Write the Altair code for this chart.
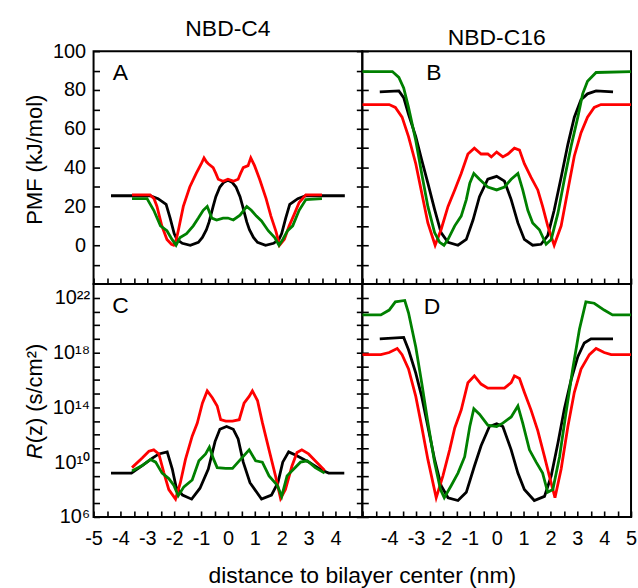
import altair as alt
import pandas as pd

FONT = "Liberation Sans"
W, H = 270, 234
TK = 6  # inward tick length (px)
BLACK, RED, GREEN = "#000000", "#ff0000", "#008000"

col_titles = ["NBD-C4", "NBD-C16"]
letters = ["A", "B", "C", "D"]
x_title = "distance to bilayer center (nm)"
pmf_title = "PMF (kJ/mol)"

x_ticks = [-5, -4.5, -4, -3.5, -3, -2.5, -2, -1.5, -1, -0.5, 0, 0.5, 1, 1.5, 2, 2.5, 3, 3.5, 4, 4.5, 5]
x_labels_left = [-5, -4, -3, -2, -1, 0, 1, 2, 3, 4]
x_labels_right = [-4, -3, -2, -1, 0, 1, 2, 3, 4, 5]
pmf_ticks = [-10, 0, 10, 20, 30, 40, 50, 60, 70, 80, 90, 100]
pmf_labels = [0, 20, 40, 60, 80, 100]
r_tick_exp = [6, 7, 8, 9, 10, 11, 12, 13, 14, 15, 16, 17, 18, 19, 20, 21, 22]
r_label_exp = [6, 10, 14, 18, 22]

# ---------------- Panel A : PMF, NBD-C4 ----------------
a_black_x = [-4.35, -2.9, -2.6, -2.3, -2.15, -2.0, -1.9, -1.7, -1.4, -1.1, -0.95, -0.8, -0.7, -0.55, -0.45, -0.3, -0.15, 0.0,
             0.15, 0.3, 0.45, 0.55, 0.7, 0.8, 0.95, 1.1, 1.4, 1.7, 1.9, 2.0, 2.15, 2.3, 2.6, 2.9, 4.35]
a_black_y = [25.5, 25.5, 24, 21, 14, 6, 3, 1, 0, 1.5, 4, 8, 12, 20, 25, 30, 32.5, 33.5,
             32.5, 30, 25, 20, 12, 8, 4, 1.5, 0, 1, 3, 6, 14, 21, 24, 25.5, 25.5]
a_red_x = [-3.57, -2.9, -2.75, -2.64, -2.46, -2.27, -2.1, -2.02, -1.92, -1.84, -1.66, -1.42, -1.18, -0.99, -0.89, -0.8,
           -0.73, -0.55, -0.45, -0.36, -0.18, 0.0, 0.2, 0.38, 0.47, 0.57, 0.75, 0.85, 0.99, 1.18, 1.42, 1.6, 1.79,
           1.92, 2.1, 2.28, 2.47, 2.65, 2.9, 3.5]
a_red_y = [26, 26, 24, 20, 10, 3, 0.5, 0, 3, 8, 20, 30, 37, 42, 45, 43,
           42, 40, 37, 34, 33, 34, 33, 34, 37, 40, 41, 45, 41, 34, 24, 15, 7,
           0, 3, 10, 16, 22, 26, 26]
a_green_x = [-3.57, -3.01, -2.76, -2.51, -2.27, -2.08, -1.93, -1.78, -1.54, -1.29, -1.1, -0.92, -0.77, -0.6, -0.42,
             -0.18, 0.0, 0.2, 0.45, 0.7, 0.87, 1.06, 1.25, 1.5, 1.74, 1.9, 2.04, 2.22, 2.41, 2.65, 2.9, 3.5]
a_green_y = [24, 24, 18, 10, 7.5, 3, 0, 4, 6, 10, 14, 18, 20, 14, 13,
             14, 14, 13, 15.5, 20, 18, 15, 12.5, 7.5, 4, 0, 3, 7.5, 10, 18, 23.5, 24]

# ---------------- Panel B : PMF, NBD-C16 ----------------
b_black_x = [-4.35, -3.64, -3.46, -3.28, -3.01, -2.79, -2.56, -2.31, -2.07, -1.81, -1.44, -1.13, -0.88, -0.64, -0.33,
             0.0, 0.29, 0.54, 0.79, 1.03, 1.34, 1.65, 1.9, 2.14, 2.4, 2.65, 2.89, 3.14, 3.38, 3.7, 4.33]
b_black_y = [79, 79.5, 76, 67.5, 56, 44, 32, 18.5, 6.5, 1.5, 0, 3, 13, 25, 34,
             35.5, 33, 23.5, 11.5, 3, 0, 0.5, 5, 18, 35, 52, 66, 75, 78, 79.5, 79]
b_red_x = [-5, -4.0, -3.77, -3.52, -3.28, -3.01, -2.79, -2.56, -2.29, -2.07, -1.81, -1.56, -1.32, -1.07, -0.83, -0.58,
           -0.33, -0.2, 0.0, 0.23, 0.42, 0.66, 0.85, 1.03, 1.28, 1.53, 1.71, 1.9, 2.14, 2.4, 2.65, 2.89, 3.14, 3.38,
           3.63, 3.88, 5]
b_red_y = [72.5, 72.5, 71, 66, 56, 42, 27, 11.5, 0, 8, 20, 28.5, 37, 47, 50, 47,
           47, 45.5, 48, 45.5, 47, 50, 49, 42, 35, 28.5, 20, 10, 0, 10, 28.5, 46, 58, 66,
           71, 72.5, 72.5]
b_green_x = [-5, -3.88, -3.64, -3.46, -3.28, -3.01, -2.79, -2.56, -2.31, -2.12, -1.96, -1.81, -1.56, -1.32, -1.13,
             -1.0, -0.85, -0.64, -0.33, 0.0, 0.29, 0.54, 0.79, 0.97, 1.16, 1.34, 1.59, 1.84, 2.03, 2.28, 2.52,
             2.77, 3.02, 3.2, 3.38, 3.7, 5]
b_green_y = [89.5, 89.5, 86.5, 81, 71, 54, 37, 20, 6.5, 1.5, 0, 3, 10, 15, 23.5,
             32, 37, 34, 30, 28.5, 30, 34, 37, 28.5, 18, 11.5, 8, 0.5, 3, 16.5, 34,
             51, 66, 78, 84.5, 89, 89.5]

# ---------------- Panel C : R(z), NBD-C4 (log10 of s/cm^2) ----------------
c_black_x = [-4.35, -3.59, -3.19, -2.81, -2.57, -2.26, -2.07, -1.93, -1.69, -1.35, -1.04, -0.73, -0.48, -0.3, -0.05,
             0.2, 0.38, 0.57, 0.82, 1.25, 1.62, 1.86, 2.04, 2.26, 2.53, 3.02, 3.5, 3.75, 4.33]
c_black_e = [9.2, 9.2, 9.75, 10.3, 10.6, 10.75, 9.5, 8.2, 7.6, 7.3, 8.1, 9.5, 11.5, 12.4, 12.6,
             12.4, 11.7, 10.0, 8.5, 7.3, 7.6, 8.5, 10.0, 10.75, 10.5, 10.0, 9.4, 9.2, 9.2]
c_red_x = [-3.57, -3.19, -2.94, -2.76, -2.57, -2.38, -2.2, -1.95, -1.77, -1.58, -1.33, -1.14, -0.95, -0.77, -0.58,
           -0.4, -0.27, -0.08, 0.17, 0.42, 0.6, 0.79, 0.91, 1.1, 1.28, 1.53, 1.77, 1.96, 2.14, 2.38, 2.57, 2.75,
           3.0, 3.3, 3.6]
c_red_e = [9.6, 10.3, 10.8, 10.9, 10.6, 9.2, 8.0, 7.3, 8.5, 10.2, 11.9, 12.85, 14.3, 15.2, 14.7,
           14.1, 13.1, 13.0, 13.0, 13.1, 14.3, 14.8, 15.2, 14.5, 12.9, 10.9, 9.0, 7.35, 8.0, 9.7, 10.7, 10.9,
           10.6, 10.0, 9.4]
c_green_x = [-3.57, -3.19, -2.88, -2.69, -2.45, -2.2, -2.01, -1.85, -1.64, -1.33, -1.08, -0.83, -0.69, -0.53, -0.4,
             -0.08, 0.17, 0.47, 0.79, 1.03, 1.28, 1.53, 1.84, 2.0, 2.2, 2.45, 2.7, 2.95, 3.25, 3.6]
c_green_e = [9.35, 9.75, 10.2, 10.0, 9.2, 8.8, 8.3, 7.55, 8.2, 8.7, 10.1, 10.6, 11.1, 10.2, 9.6,
             9.55, 9.55, 10.2, 10.9, 10.1, 10.0, 9.0, 8.3, 7.5, 9.0, 9.5, 10.0, 10.1, 9.6, 9.2]

# ---------------- Panel D : R(z), NBD-C16 (log10 of s/cm^2) ----------------
d_black_x = [-4.35, -3.46, -3.28, -3.01, -2.79, -2.56, -2.31, -2.07, -1.81, -1.44, -1.13, -0.83, -0.58, -0.27, 0.0,
             0.23, 0.54, 0.79, 1.03, 1.4, 1.78, 2.03, 2.28, 2.52, 2.77, 3.02, 3.26, 3.51, 4.33]
d_black_e = [19.0, 19.1, 18.2, 16.5, 14.8, 12.6, 10.2, 8.3, 7.4, 7.2, 7.8, 9.7, 11.2, 12.6, 12.8,
             12.6, 10.9, 9.2, 8.0, 7.2, 7.5, 9.0, 11.4, 13.9, 16.0, 17.7, 18.7, 19.0, 19.0]
d_red_x = [-5, -4.31, -4.0, -3.7, -3.52, -3.28, -3.01, -2.79, -2.56, -2.25, -2.0, -1.75, -1.56, -1.32, -1.07, -0.83,
           -0.58, -0.33, 0.0, 0.29, 0.54, 0.66, 0.85, 1.03, 1.28, 1.53, 1.78, 1.96, 2.17, 2.4, 2.65, 2.89, 3.14,
           3.45, 3.7, 4.0, 4.26, 5]
d_red_e = [17.85, 17.85, 18.0, 18.3, 17.85, 16.8, 14.8, 12.6, 10.2, 7.4, 9.0, 10.9, 12.5, 13.8, 15.8, 16.3,
           15.7, 15.4, 15.4, 15.4, 15.8, 16.3, 16.1, 15.1, 13.8, 12.3, 10.4, 9.0, 7.4, 9.5, 12.6, 15.1, 16.8,
           17.85, 18.3, 18.0, 17.85, 17.85]
d_green_x = [-5, -4.31, -4.0, -3.77, -3.42, -3.28, -3.01, -2.79, -2.56, -2.31, -2.09, -1.95, -1.69, -1.44, -1.19,
             -1.0, -0.85, -0.64, -0.33, 0.0, 0.23, 0.54, 0.79, 0.97, 1.22, 1.47, 1.71, 1.9, 2.09, 2.34, 2.58,
             2.83, 3.08, 3.32, 3.63, 4.0, 4.31, 5]
d_green_e = [20.75, 20.75, 21.1, 21.7, 21.8, 20.9, 18.4, 15.8, 12.9, 10.0, 8.0, 7.4, 8.3, 9.2, 10.4,
             12.6, 13.9, 13.5, 12.7, 12.6, 12.85, 13.3, 14.1, 12.85, 10.9, 10.0, 9.2, 7.8, 8.0, 10.4, 13.6,
             16.8, 19.7, 21.7, 21.6, 21.1, 20.75, 20.75]


def pow10(es):
    return [10.0 ** e for e in es]


xscale = alt.Scale(domain=[-5, 5], nice=False, zero=False)
pmf_scale = alt.Scale(domain=[-20, 100], nice=False, zero=False)
r_scale = alt.Scale(type="log", domain=[1e6, 1e23], nice=False)

SUPS = {6: "10\u2076", 10: "10\u00b9\u2070", 14: "10\u00b9\u2074", 18: "10\u00b9\u2078", 22: "10\u00b2\u00b2"}
E = "round(log(datum.value) / LN10)"
SUP_EXPR = " : ".join(f"{E} == {e} ? '{SUPS[e]}'" for e in r_label_exp) + " : ''"


def lab_expr(labels):
    return f"indexof({list(labels)}, datum.value) >= 0 ? '' + datum.value : ''"


TICKS = dict(ticks=True, tickSize=TK, tickWidth=1.6, tickColor="black", offset=-TK,
             domain=False, grid=False, title=None, labelOverlap=False)


def x_axis(labels):
    if labels is None:
        return alt.Axis(orient="bottom", values=x_ticks, labels=False, **TICKS)
    return alt.Axis(orient="bottom", values=x_ticks, labelFontSize=20, labelPadding=12, labelFlush=False,
                    labelExpr=lab_expr(labels), **TICKS)


def y_axis(kind, orient, labels):
    vals = pmf_ticks if kind == "pmf" else pow10(r_tick_exp)
    if not labels:
        return alt.Axis(orient=orient, values=vals, labels=False, **TICKS)
    expr = lab_expr(pmf_labels) if kind == "pmf" else SUP_EXPR
    return alt.Axis(orient=orient, values=vals, labelFontSize=20, labelPadding=8 if kind == "pmf" else 4,
                    labelExpr=expr, **TICKS)


def text(t, x, y, size=22, **kw):
    return alt.Chart(pd.DataFrame({"t": [t]})).mark_text(
        fontSize=size, color="black", **kw
    ).encode(text="t:N", x=alt.value(x), y=alt.value(y))


def panel(series, kind, x_labels, y_labels, letter, lpos, right_ticks, extra=(), title=None):
    yscale = pmf_scale if kind == "pmf" else r_scale
    xa = x_axis(x_labels)
    y_axes = [y_axis(kind, "left", y_labels),
              y_axis(kind, "right", False) if right_ticks else None,
              None]
    layers = []
    for (xs, ys, col), ya in zip(series, y_axes):
        df = pd.DataFrame({"x": xs, "y": ys})
        layers.append(
            alt.Chart(df).mark_line(color=col, strokeWidth=2.8, clip=True).encode(
                x=alt.X("x:Q", scale=xscale, axis=xa),
                y=alt.Y("y:Q", scale=yscale, axis=ya),
            )
        )
    layers.append(text(letter, lpos[0], lpos[1], size=23, align="center", baseline="middle"))
    layers.extend(extra)
    ch = alt.layer(*layers).resolve_axis(y="independent").properties(width=W, height=H)
    if title is not None:
        ch = ch.properties(title=alt.TitleParams(title, fontSize=23, fontWeight="normal",
                                                 frame="group", anchor="middle", offset=0))
    return ch


pmf_ylab = text(pmf_title, -59, 109, size=22, angle=270, align="center", baseline="middle")
r_ylab1 = text("R", -59, 176, size=22, angle=270, align="left", baseline="middle", fontStyle="italic")
r_ylab2 = text("(z) (s/cm\u00b2)", -59, 160, size=22, angle=270, align="left", baseline="middle")
xlab = text(x_title, W, H + 59, size=23, align="center", baseline="middle")

pA = panel([(a_black_x, a_black_y, BLACK), (a_red_x, a_red_y, RED), (a_green_x, a_green_y, GREEN)],
           "pmf", None, True, letters[0], (27, 22), True, extra=[pmf_ylab], title=col_titles[0])
pB = panel([(b_black_x, b_black_y, BLACK), (b_red_x, b_red_y, RED), (b_green_x, b_green_y, GREEN)],
           "pmf", None, False, letters[1], (72, 22), False, title=col_titles[1])
pC = panel([(c_black_x, pow10(c_black_e), BLACK), (c_red_x, pow10(c_red_e), RED),
            (c_green_x, pow10(c_green_e), GREEN)],
           "r", x_labels_left, True, letters[2], (27, 22), True, extra=[r_ylab1, r_ylab2, xlab])
pD = panel([(d_black_x, pow10(d_black_e), BLACK), (d_red_x, pow10(d_red_e), RED),
            (d_green_x, pow10(d_green_e), GREEN)],
           "r", x_labels_right, False, letters[3], (70, 23), False)

chart = alt.concat(pA, pB, pC, pD, columns=2, spacing=0, bounds="flush").properties(
    padding={"left": 23, "top": 16, "right": 0, "bottom": 0},
    background="white",
).configure(font=FONT).configure_view(stroke="black", strokeWidth=2)

chart.save("out.html", embed_options={"renderer": "svg", "actions": False})
